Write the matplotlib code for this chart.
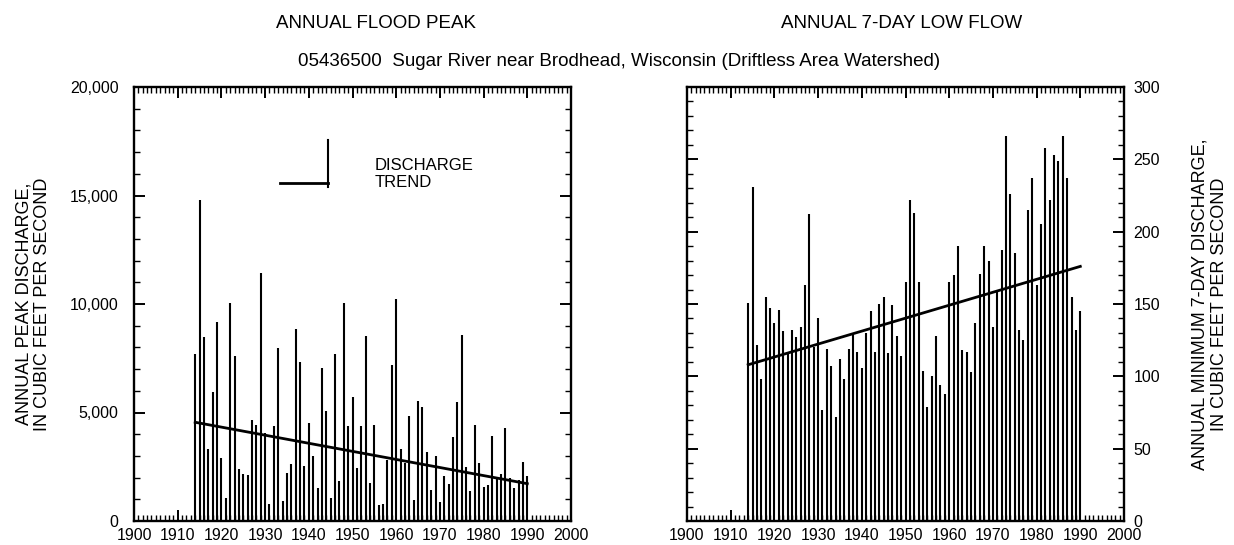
import matplotlib
matplotlib.use("Agg")
import matplotlib.pyplot as plt
from matplotlib.ticker import MultipleLocator, FuncFormatter

plt.rcParams['font.family'] = ['Liberation Sans', 'DejaVu Sans']

years = list(range(1914, 1991))

peak_flow = [7700, 14780, 8500, 3310, 5930, 9160, 2900, 1080, 10040, 7620,
             2390, 2160, 2140, 4650, 4430, 11420, 4050, 800, 4360, 7980,
             920, 2190, 2620, 8840, 7340, 2540, 4510, 2990, 1510, 7040,
             5080, 1050, 7700, 1850, 10040, 4390, 5730, 2430, 4360, 8530,
             1740, 4420, 740, 800, 2800, 7190, 10240, 3340, 2690, 4820,
             960, 5510, 5270, 3200, 1420, 3000, 880, 2080, 1700, 3850,
             5470, 8590, 2500, 1390, 4420, 2690, 1570, 1650, 3930, 1930,
             2160, 4280, 2000, 1510, 1900, 2740, 2080]

low_flow = [151, 231, 122, 98, 155, 147, 137, 146, 131, 116,
            132, 127, 134, 163, 212, 120, 140, 77, 119, 107,
            72, 112, 98, 119, 130, 117, 106, 130, 145, 117,
            150, 155, 116, 149, 128, 114, 165, 222, 213, 165,
            104, 79, 100, 128, 94, 88, 165, 170, 190, 118,
            117, 103, 137, 171, 190, 180, 134, 158, 187, 266,
            226, 185, 132, 125, 215, 237, 163, 205, 258, 222,
            253, 249, 266, 237, 155, 132, 145]

peak_trend_years = [1914, 1990]
peak_trend = [4550, 1720]
low_trend_years = [1914, 1990]
low_trend = [108, 176]

title_left = "ANNUAL FLOOD PEAK"
title_right = "ANNUAL 7-DAY LOW FLOW"
subtitle = "05436500  Sugar River near Brodhead, Wisconsin (Driftless Area Watershed)"
ylabel_left = "ANNUAL PEAK DISCHARGE,\nIN CUBIC FEET PER SECOND"
ylabel_right = "ANNUAL MINIMUM 7-DAY DISCHARGE,\nIN CUBIC FEET PER SECOND"

W, H = 1234, 545
fig = plt.figure(figsize=(W / 100, H / 100), dpi=100)

def fx(px):
    return px / W

def fy(py):
    return 1 - py / H

ax1 = fig.add_axes([fx(134), fy(521), fx(571 - 134), (521 - 87) / H])
ax2 = fig.add_axes([fx(687), fy(521), fx(1124 - 687), (521 - 87) / H])

FS = 11.5
for ax in (ax1, ax2):
    ax.set_xlim(1900, 2000)
    ax.xaxis.set_major_locator(MultipleLocator(10))
    ax.xaxis.set_minor_locator(MultipleLocator(1))
    ax.tick_params(axis='both', which='major', direction='in', length=8, width=1.4,
                   top=True, bottom=True, left=True, right=True, labelsize=FS, pad=5)
    ax.tick_params(axis='both', which='minor', direction='in', length=4.5, width=1.0,
                   top=True, bottom=True, left=True, right=True)
    for s in ax.spines.values():
        s.set_linewidth(1.7)

# left panel
ax1.set_ylim(0, 20000)
ax1.yaxis.set_major_locator(MultipleLocator(5000))
ax1.yaxis.set_minor_locator(MultipleLocator(1000))
ax1.yaxis.set_major_formatter(FuncFormatter(lambda v, p: f"{int(v):,}"))
ax1.tick_params(axis='y', which='major', pad=11)
ax1.vlines(years, 0, peak_flow, colors='black', linewidth=1.5)
ax1.plot(peak_trend_years, peak_trend, color='black', linewidth=2.0)
ax1.set_ylabel(ylabel_left, fontsize=13, linespacing=1.15)
ax1.yaxis.set_label_coords(-0.19, 0.5)

# legend (drawn manually as in original)
ax1.plot([1944.4, 1944.4], [15400, 17550], color='black', linewidth=1.5)
ax1.text(1955.1, 16400, "DISCHARGE", fontsize=12, va='center', ha='left')
ax1.plot([1933.4, 1944.4], [15580, 15580], color='black', linewidth=2.0)
ax1.text(1955.1, 15580, "TREND", fontsize=12, va='center', ha='left')

# right panel
ax2.set_ylim(0, 300)
ax2.yaxis.set_major_locator(MultipleLocator(50))
ax2.yaxis.set_minor_locator(MultipleLocator(10))
ax2.yaxis.tick_right()
ax2.yaxis.set_label_position('right')
ax2.tick_params(axis='y', which='both', left=True, right=True, labelleft=False, labelright=True)
ax2.tick_params(axis='y', which='major', pad=7)
ax2.vlines(years, 0, low_flow, colors='black', linewidth=1.5)
ax2.plot(low_trend_years, low_trend, color='black', linewidth=2.0)
ax2.set_ylabel(ylabel_right, fontsize=13, linespacing=1.15, rotation=90)
ax2.yaxis.set_label_coords(1.155, 0.5)

fig.text(fx(376), fy(24), title_left, fontsize=13.5, ha='center', va='center')
fig.text(fx(902), fy(24), title_right, fontsize=13.5, ha='center', va='center')
fig.text(fx(619), fy(62), subtitle, fontsize=13.5, ha='center', va='center')

fig.savefig("out.png", dpi=100)
